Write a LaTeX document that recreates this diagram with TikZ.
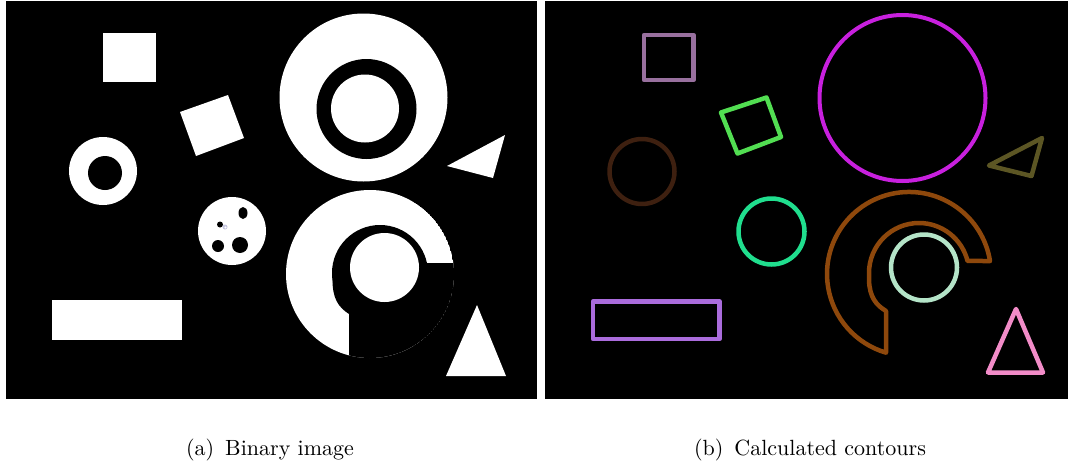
\documentclass[tikz,border=0pt]{standalone}
\begin{document}
\begin{tikzpicture}[x=1pt,y=-1pt,
  panel/.style={fill=black},
  blob/.style={fill=white},
  hole/.style={fill=black},
  contour/.style={line width=4.5pt,line join=round},
  caption/.style={font=\normalsize,scale=2.2,inner sep=0pt,anchor=base}]
\definecolor{cmauve}{RGB}{152,112,158}
\definecolor{cgreen}{RGB}{82,222,82}
\definecolor{cdarkbrown}{RGB}{62,32,16}
\definecolor{cmagenta}{RGB}{200,32,222}
\definecolor{colive}{RGB}{92,86,36}
\definecolor{cteal}{RGB}{32,222,142}
\definecolor{cpurple}{RGB}{170,108,220}
\definecolor{cbrown}{RGB}{142,72,12}
\definecolor{cmint}{RGB}{180,228,200}
\definecolor{cpink}{RGB}{242,140,200}
\definecolor{chaze}{RGB}{200,200,225}
\useasboundingbox (0,0) rectangle (1068,463);

% ---------- (a) binary image ----------
\fill[panel] (6,1) rectangle (537,399);
% square
\fill[blob] (103,33) rectangle (156,82);
% tilted square
\fill[blob] (180,112) -- (228,95) -- (244,138) -- (196,156) -- cycle;
% small ring
\fill[blob] (103,171) circle[radius=34pt];
\fill[hole] (105,173) circle[radius=17pt];
% large ring with inner disc
\fill[blob] (363.5,97.5) circle[radius=84pt];
\fill[hole] (366.5,109) circle[radius=50pt];
\fill[blob] (365,108.5) circle[radius=34pt];
% upper triangle
\fill[blob] (447,166) -- (505,135) -- (493,178) -- cycle;
% disc with holes
\fill[blob] (232,231) circle[radius=34pt];
\fill[hole] (243,213) ellipse[x radius=4.5pt,y radius=6pt];
\fill[hole] (240,245) circle[radius=8pt];
\fill[hole] (218,246) circle[radius=6pt];
\fill[hole] (220,224.5) circle[radius=3pt];
\fill[chaze] (225,227) circle[radius=2.5pt];
\fill[white] (225.5,227.5) circle[radius=1.2pt];
% bar
\fill[blob] (52,300) rectangle (182,340);
% cut ring with disc
\begin{scope}
  \clip (370,274) circle[radius=84pt];
  \fill[blob] (370,274) circle[radius=84pt];
  \fill[hole] (349,263) rectangle (460,360);
\end{scope}
\fill[hole] (380,273) circle[radius=48pt];
\fill[hole] (332.5,273) -- (332.5,280)
  .. controls (332.5,298) and (338,307) .. (349,314) -- (370,300) -- (370,273) -- cycle;
\fill[blob] (384.5,267.5) circle[radius=34.5pt];
% lower triangle
\fill[blob] (477,305) -- (446,376) -- (506,376) -- cycle;

% ---------- (b) contours ----------
\fill[panel] (545,1) rectangle (1068,399);
\draw[contour,cmauve] (644,35) rectangle (693.5,80);
\draw[contour,cgreen] (721,112.5) -- (766.5,97.5) -- (781,137) -- (737.5,153.5) -- cycle;
\draw[contour,cdarkbrown] (642,171.5) circle[radius=32.5pt];
\draw[contour,cmagenta,line width=4pt] (902.5,98) circle[radius=83pt];
\draw[contour,colive] (989,165.5) -- (1042,138) -- (1031.5,176) -- cycle;
\draw[contour,cteal] (771.5,231.5) circle[radius=33pt];
\draw[contour,cpurple] (593,301.5) rectangle (719.5,339);
\draw[contour,cbrown] (990,261) arc[start angle=9.1,end angle=253.7,radius=82pt]
  -- (886,311) .. controls (876,305) and (869.5,297) .. (869,280) -- (869,273)
  arc[start angle=180,end angle=13.9,radius=50pt] -- cycle;
\draw[contour,cmint] (924,267.5) circle[radius=33pt];
\draw[contour,cpink] (1016,309) -- (988,372.5) -- (1043,372.5) -- cycle;

% ---------- captions ----------
\node[caption] (capa) at (270,455) {(a)\enspace Binary image};
\node[caption] (capb) at (810,455) {(b)\enspace Calculated contours};
\end{tikzpicture}
\end{document}
